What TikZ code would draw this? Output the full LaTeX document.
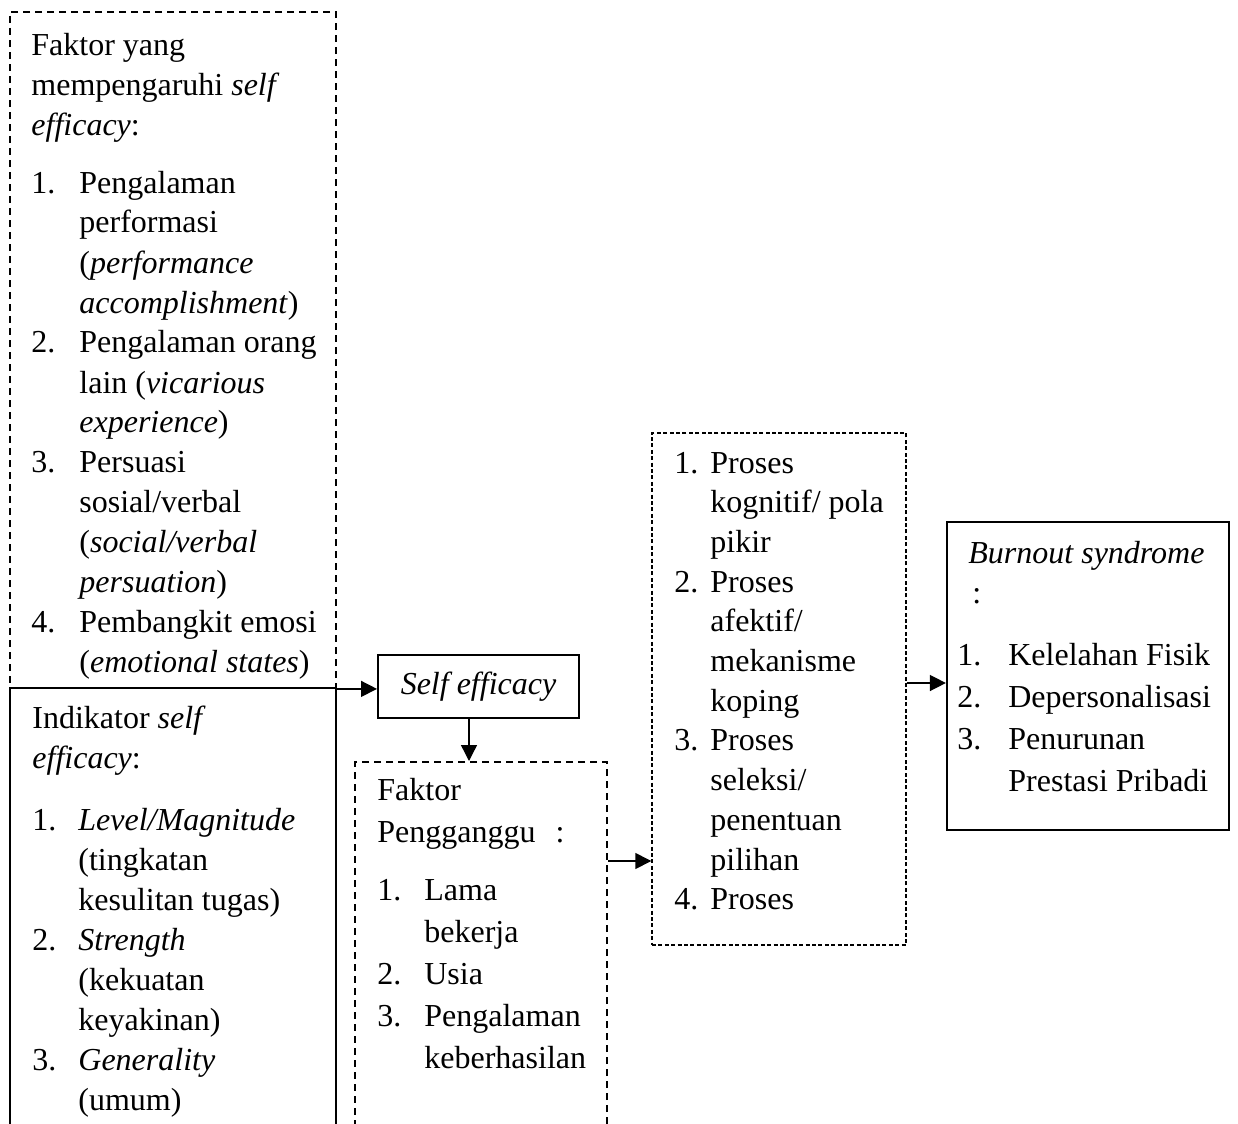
\documentclass[tikz,border=0pt]{standalone}
\usepackage{fontspec}
\setmainfont{Liberation Serif}
\usetikzlibrary{fit,arrows.meta}
\newcommand{\li}[2]{\par\noindent\hangindent=#1\hangafter=1\makebox[#1][l]{#2}\ignorespaces}
\tikzset{
  bx/.style={draw, line width=1pt, inner sep=0pt},
  dbox/.style={bx, line width=0.9pt, dash pattern=on 3.5pt off 2.5pt},
  fdbox/.style={bx, line width=0.7pt, dash pattern=on 2pt off 1.2pt},
  txt/.style={anchor=base west, inner sep=0pt, font=\fontsize{16}{20}\selectfont},
  arr/.style={line width=0.7pt, -{Triangle[length=8pt,width=8pt]}},
}
\begin{document}
\begin{tikzpicture}[x=0.5pt,y=-0.5pt]
\useasboundingbox (0,0) rectangle (1238,1124);
% boxes
\node[dbox, fit={(10,12)(336,688)}] (topbox) {};
\node[bx, line width=1.3pt, fit={(10,688)(336,1160)}] (indbox) {};
\node[bx, minimum width=100.5pt, minimum height=31.5pt, font=\fontsize{16}{20}\selectfont] (se) at (478.5,686.5) {\textit{Self efficacy}};
\node[dbox, line width=1pt, fit={(355,762)(607,1160)}] (fp) {};
\node[fdbox, fit={(652,433)(906,945)}] (mid) {};
\node[bx, line width=1.1pt, fit={(947,522)(1229,830)}] (burn) {};
% texts
\node[txt] (t1) at (31,55) {\parbox[t]{200pt}{Faktor yang\\mempengaruhi \textit{self}\\\textit{efficacy}:\par\vspace{9pt}
\li{24pt}{1.}Pengalaman\\performasi\\(\textit{performance}\\\textit{accomplishment})
\li{24pt}{2.}Pengalaman orang\\lain (\textit{vicarious}\\\textit{experience})
\li{24pt}{3.}Persuasi\\sosial/verbal\\(\textit{social/verbal}\\\textit{persuation})
\li{24pt}{4.}Pembangkit emosi\\(\textit{emotional states})}};
\node[txt] (t2) at (32,728) {\parbox[t]{200pt}{Indikator \textit{self}\\\textit{efficacy}:\par\vspace{11pt}
\li{23pt}{1.}\textit{Level/Magnitude}\\(tingkatan\\kesulitan tugas)
\li{23pt}{2.}\textit{Strength}\\(kekuatan\\keyakinan)
\li{23pt}{3.}\textit{Generality}\\(umum)}};
\node[txt, font=\fontsize{16}{21}\selectfont] (t3) at (377,800) {\parbox[t]{200pt}{Faktor\\Pengganggu\hspace{10pt}:\par\vspace{8pt}
\li{23.5pt}{1.}Lama\\bekerja
\li{23.5pt}{2.}Usia
\li{23.5pt}{3.}Pengalaman\\keberhasilan}};
\node[txt, font=\fontsize{16}{19.85}\selectfont] (t4) at (674,473) {\parbox[t]{200pt}{%
\li{18pt}{1.}Proses\\kognitif/ pola\\pikir
\li{18pt}{2.}Proses\\afektif/\\mekanisme\\koping
\li{18pt}{3.}Proses\\seleksi/\\penentuan\\pilihan
\li{18pt}{4.}Proses}};
\node[txt] (t5) at (968,563) {\parbox[t]{200pt}{\textit{Burnout syndrome}\\\hspace*{2pt}:}};
\node[txt, font=\fontsize{16}{21}\selectfont] (t6) at (957,665) {\parbox[t]{200pt}{%
\li{25.5pt}{1.}Kelelahan Fisik
\li{25.5pt}{2.}Depersonalisasi
\li{25.5pt}{3.}Penurunan\\Prestasi Pribadi}};
% connectors
\draw[arr] (topbox.south east) -- (topbox.south east -| se.west);
\draw[arr] ([xshift=-4.75pt]se.south) -- ([xshift=-4.75pt]se.south |- fp.north);
\coordinate (fpout) at ([yshift=-50pt]fp.north east);
\draw[arr] (fpout) -- (fpout -| mid.west);
\coordinate (midout) at ([yshift=3pt]mid.east);
\draw[arr] (midout) -- (midout -| burn.west);
\end{tikzpicture}
\end{document}
